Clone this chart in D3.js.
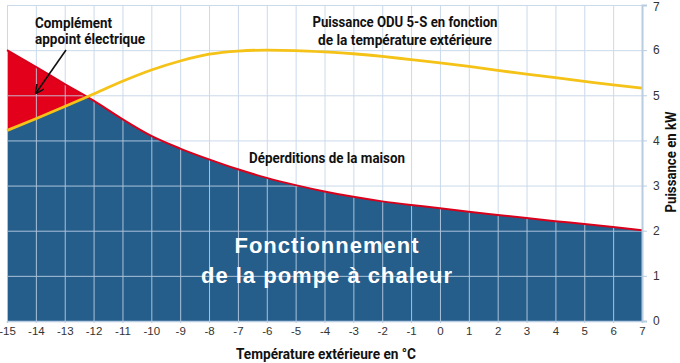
<!DOCTYPE html>
<html>
<head>
<meta charset="utf-8">
<script src="https://cdn.jsdelivr.net/npm/d3@7"></script>
<style>
  body { margin: 0; background: #fff; }
  svg { display: block; }
</style>
</head>
<body>
<div id="area"></div>
<script>
// Temperatures (°C) along the x axis
const temps = [-15, -14, -13, -12, -11, -10, -9, -8, -7, -6, -5, -4, -3, -2, -1, 0, 1, 2, 3, 4, 5, 6, 7];
// Déperditions de la maison (kW)
const losses = [6.0, 5.63, 5.25, 4.88, 4.47, 4.10, 3.82, 3.58, 3.36, 3.17, 3.01, 2.87, 2.75, 2.65, 2.57, 2.50, 2.42, 2.35, 2.28, 2.21, 2.15, 2.08, 2.01];
// Puissance ODU 5-S (kW)
const power = [4.22, 4.48, 4.75, 5.03, 5.31, 5.56, 5.76, 5.91, 5.98, 6.00, 5.99, 5.96, 5.92, 5.86, 5.79, 5.72, 5.64, 5.55, 5.47, 5.39, 5.31, 5.23, 5.16];
const kwTicks = [0, 1, 2, 3, 4, 5, 6, 7];

const width = 680, height = 363;
const blue = '#255e8b', red = '#e2001a', yellow = '#f5c218', gridColor = '#c3d4e8';
const narrow = 'Roboto, "DejaVu Sans Condensed", sans-serif';
const plain = '"Liberation Sans", Arial, sans-serif';

const svg = d3.select('#area').append('svg')
    .attr('width', width)
    .attr('height', height);

const x = d3.scaleLinear().domain([-15, 7]).range([7, 642]);
const y = d3.scaleLinear().domain([0, 7]).range([321, 5]);

const pts = temps.map((t, i) => ({ t, loss: losses[i], pow: power[i] }));

// area under the house losses = heat pump share
const underLoss = d3.area()
    .x(d => x(d.t)).y0(y(0)).y1(d => y(d.loss))
    .curve(d3.curveMonotoneX);

const defs = svg.append('defs');
defs.append('clipPath').attr('id', 'lossClip')
    .append('path').attr('d', underLoss(pts));

svg.append('path')
    .attr('d', underLoss(pts))
    .attr('fill', blue);

// electric back-up: above the pump curve but below the losses
svg.append('path')
    .attr('clip-path', 'url(#lossClip)')
    .attr('d', d3.area().x(d => x(d.t)).y0(d => y(d.pow)).y1(y(7)).curve(d3.curveMonotoneX)(pts))
    .attr('fill', red);

// grid
const grid = svg.append('g').attr('stroke', gridColor).attr('stroke-width', 1).attr('opacity', 0.85);
grid.selectAll('line.v').data(temps).join('line')
    .attr('class', 'v')
    .attr('x1', d => x(d) + 0.5).attr('x2', d => x(d) + 0.5)
    .attr('y1', y(7)).attr('y2', y(0));
grid.selectAll('line.h').data(kwTicks).join('line')
    .attr('class', 'h')
    .attr('x1', x(-15)).attr('x2', x(7))
    .attr('y1', d => y(d) + 0.5).attr('y2', d => y(d) + 0.5);

// curves
svg.append('path')
    .attr('d', d3.line().x(d => x(d.t)).y(d => y(d.loss)).curve(d3.curveMonotoneX)(pts))
    .attr('fill', 'none')
    .attr('stroke', '#d9001b')
    .attr('stroke-width', 2);

svg.append('path')
    .attr('d', d3.line().x(d => x(d.t)).y(d => y(d.pow)).curve(d3.curveMonotoneX)(pts))
    .attr('fill', 'none')
    .attr('stroke', yellow)
    .attr('stroke-width', 2.8);

// right axis
const yAxis = svg.append('g')
    .attr('transform', `translate(${x(7)},0)`)
    .call(d3.axisRight(y).tickValues(kwTicks).tickFormat(d3.format('d')).tickSize(5).tickPadding(6));
yAxis.select('.domain').attr('stroke', '#b8cce2').attr('stroke-width', 2);
yAxis.selectAll('.tick line').attr('stroke', '#b8cce2');
yAxis.selectAll('text').attr('font-family', plain).attr('font-size', 12).attr('fill', '#333');
yAxis.selectAll('.tick').filter(d => d === 7).select('text').attr('dy', '0.45em');

// bottom axis
const xAxis = svg.append('g')
    .attr('transform', `translate(0,${y(0)})`)
    .call(d3.axisBottom(x).tickValues(temps).tickSize(2).tickPadding(4));
xAxis.select('.domain').attr('stroke', '#b8cce2').attr('stroke-width', 1.5);
xAxis.selectAll('.tick line').attr('stroke', '#b8cce2');
xAxis.selectAll('text').attr('font-family', plain).attr('font-size', 11.5).attr('fill', '#333')
    .text(d => d < 0 ? '-' + Math.abs(d) : d);

// bold condensed labels, squeezed to the reference widths
function label(str, px, py, anchor, size, len, color, rot) {
    const t = svg.append('text')
        .attr('text-anchor', anchor)
        .attr('font-family', narrow).attr('font-weight', 'bold').attr('font-size', size)
        .attr('fill', color || '#111')
        .attr('textLength', len).attr('lengthAdjust', 'spacingAndGlyphs')
        .text(str);
    if (rot) t.attr('transform', `translate(${px},${py}) rotate(${rot})`);
    else t.attr('x', px).attr('y', py);
    return t;
}

label('Température extérieure en °C', 326, 359, 'middle', 15, 180);
label('Puissance en kW', 676, 162, 'middle', 15, 101, '#111', -90);

label('Complément', 35, 27.5, 'start', 14.5, 77);
label('appoint électrique', 35, 43.5, 'start', 14.5, 110);
label('Puissance ODU 5-S en fonction', 405, 27, 'middle', 15, 185);
label('de la température extérieure', 405, 45, 'middle', 15, 174);
label('Déperditions de la maison', 327, 163, 'middle', 15, 156);

// white label inside the blue area
['Fonctionnement', 'de la pompe à chaleur'].forEach((s, i) => {
    svg.append('text')
        .attr('x', 327).attr('y', 253 + i * 30)
        .attr('text-anchor', 'middle')
        .attr('font-family', plain).attr('font-weight', 'bold').attr('font-size', 22)
        .attr('letter-spacing', 1)
        .attr('fill', '#fff')
        .text(s);
});

// arrow towards the red zone
defs.append('marker')
    .attr('id', 'head')
    .attr('viewBox', '0 0 10 10').attr('refX', 9).attr('refY', 5)
    .attr('markerWidth', 9).attr('markerHeight', 9)
    .attr('markerUnits', 'userSpaceOnUse')
    .attr('orient', 'auto')
    .append('path').attr('d', 'M0,0 L10,5 L0,10').attr('fill', 'none').attr('stroke', '#111').attr('stroke-width', 1.8);

svg.append('line')
    .attr('x1', 66).attr('y1', 50).attr('x2', 36).attr('y2', 93)
    .attr('stroke', '#111').attr('stroke-width', 1.6)
    .attr('marker-end', 'url(#head)');
</script>
</body>
</html>
